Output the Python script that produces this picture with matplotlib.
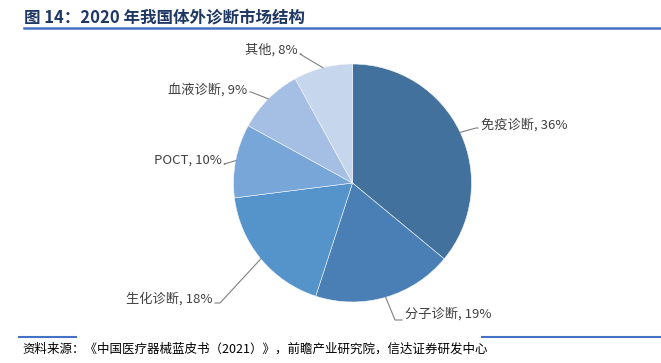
import matplotlib.pyplot as plt
import numpy as np

plt.rcParams['font.family'] = ['Noto Sans CJK SC', 'DejaVu Sans']

# data
labels = ["免疫诊断", "分子诊断", "生化诊断", "POCT", "血液诊断", "其他"]
shares = [36, 19, 18, 10, 9, 8]
colors = ["#41719c", "#4a7fb6", "#5593cb", "#78a6d8", "#a4bfe3", "#c6d6ed"]

# label layout in pixels (x, y from top), alignment and elbow point
label_pos = [(481, 125, "left"), (405, 314, "left"), (212, 299, "right"),
             (222, 160, "right"), (247, 90, "right"), (298, 50, "right")]
elbows = [(476, 128), (395, 320), (220, 303), (224, 164), (251, 92), (300, 54)]

W, H = 661, 363
fig = plt.figure(figsize=(W / 100, H / 100), dpi=100)
ax = fig.add_axes([0, 0, 1, 1])

cx, cy, r = 352.5, H - 183, 119
wedges, _ = ax.pie(shares, colors=colors, startangle=90, counterclock=False,
                   center=(cx, cy), radius=r, frame=True,
                   wedgeprops=dict(edgecolor='#f4f7fb', linewidth=0.4))
ax.set_xlim(0, W)
ax.set_ylim(0, H)
ax.set_aspect('equal')
ax.axis('off')

for w, lab, val, (tx, ty, ha), (ex, ey) in zip(wedges, labels, shares, label_pos, elbows):
    ang = np.deg2rad((w.theta1 + w.theta2) / 2)
    px, py = cx + r * np.cos(ang), cy + r * np.sin(ang)
    tx0 = tx - 3 if ha == "left" else tx + 3
    ax.plot([px, ex, tx0], [py, H - ey, H - ey], color='#808080', lw=0.8)
    ax.text(tx, H - ty, f"{lab}, {val}%", ha=ha, va='center',
            fontsize=9.5, color='#404040')

# title and rules
ax.text(24, H - 17, "图 14：2020 年我国体外诊断市场结构", ha='left', va='center',
        fontsize=11.9, fontweight='bold', color='#1f3763')
ax.plot([24, W], [H - 28, H - 28], color='#4472c4', lw=1.8)
ax.plot([19, 76], [H - 337, H - 337], color='#4472c4', lw=1.5)
ax.plot([482, W], [H - 337, H - 337], color='#4472c4', lw=1.5)
ax.text(22, H - 349, "资料来源：《中国医疗器械蓝皮书（2021）》，前瞻产业研究院，信达证券研发中心",
        ha='left', va='center', fontsize=9, color='#000000', style='italic')

plt.savefig("out.png", dpi=100)
